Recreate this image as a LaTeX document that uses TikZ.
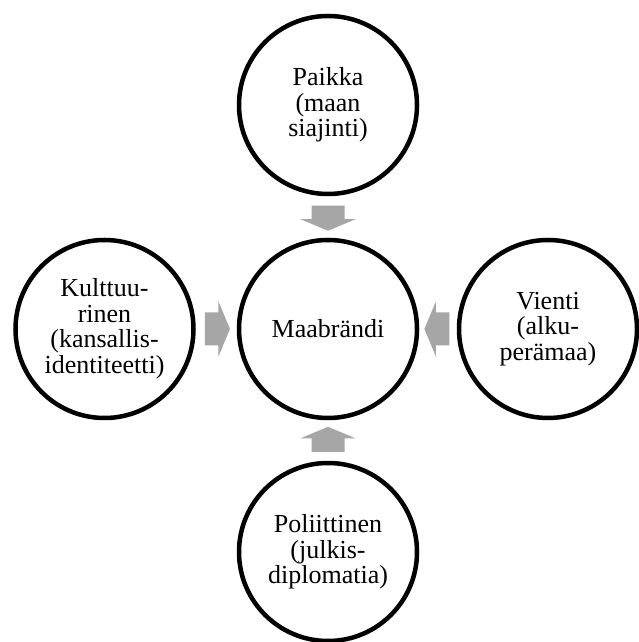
\documentclass[tikz,border=0pt]{standalone}
\usepackage{fontspec}
\setmainfont{Liberation Serif}
\usetikzlibrary{calc}
\definecolor{arrowgray}{HTML}{A6A6A6}
\tikzset{
  brandcircle/.style={circle, draw=black, line width=4.5pt, fill=white,
    minimum size=178pt, inner sep=0pt, align=center,
    font=\fontsize{26}{25.5}\selectfont},
  % block arrow pointing along +x, centred on the origin
  flowarrow/.pic={
    \fill[arrowgray] (-12.5,-16.5) -- (1,-16.5) -- (1,-27.5) -- (12.5,0)
      -- (1,27.5) -- (1,16.5) -- (-12.5,16.5) -- cycle;
  }
}
\begin{document}
\begin{tikzpicture}[x=1pt,y=1pt]
\useasboundingbox (0,0) rectangle (638,642);
\fill[white] (0,0) rectangle (638,642);

% central brand and its four dimensions
\node[brandcircle] (ctr)   at (328,313)   {Maabrändi};
\node[brandcircle] (top)   at (328,537)   {Paikka\\(maan\\siajinti)};
\node[brandcircle] (bot)   at (328,90)    {Poliittinen\\(julkis-\\diplomatia)};
\node[brandcircle] (left)  at (104.5,313) {Kulttuu-\\rinen\\(kansallis-\\identiteetti)};
\node[brandcircle] (right) at (548,313)   {Vienti\\(alku-\\perämaa)};

% arrows from each dimension towards the centre
\path (top)   -- coordinate[pos=0.53] (atop)   (ctr);
\path (bot)   -- coordinate[pos=0.53] (abot)   (ctr);
\path (left)  -- coordinate[pos=0.53] (aleft)  (ctr);
\path (right) -- coordinate[pos=0.53] (aright) (ctr);
\pic[rotate=-90] at (atop)   {flowarrow};
\pic[rotate=90]  at (abot)   {flowarrow};
\pic             at (aleft)  {flowarrow};
\pic[rotate=180] at (aright) {flowarrow};
\end{tikzpicture}
\end{document}
